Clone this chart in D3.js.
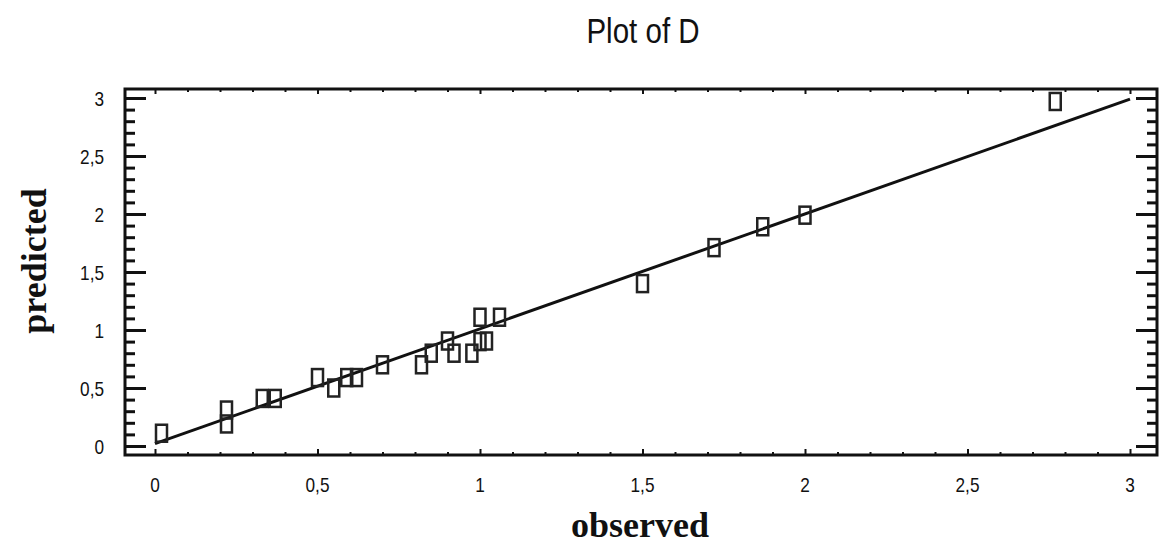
<!DOCTYPE html>
<html>
<head>
<meta charset="utf-8">
<script src="https://cdn.jsdelivr.net/npm/d3@7"></script>
<style>
  html, body { margin: 0; padding: 0; background: #fff; }
  svg { display: block; }
  .tick-label { font-family: "Liberation Sans", Arial, sans-serif; font-size: 21px; fill: #111; }
  .title { font-family: "Liberation Sans", Arial, sans-serif; font-size: 36px; fill: #111; }
  .axis-title { font-family: "Liberation Serif", "Times New Roman", serif; font-weight: bold; font-size: 36px; fill: #111; }
</style>
</head>
<body>
<svg id="chart" width="1160" height="546"></svg>
<script>
// ---- data ----
const observed  = [0.02, 0.22, 0.22, 0.33, 0.37, 0.50, 0.55, 0.59, 0.62, 0.70, 0.82, 0.85, 0.90, 0.92, 0.975, 1.00, 1.00, 1.02, 1.06, 1.50, 1.72, 1.87, 2.00, 2.77];
const predicted = [0.11, 0.31, 0.19, 0.41, 0.41, 0.59, 0.50, 0.59, 0.59, 0.70, 0.70, 0.80, 0.905, 0.80, 0.80, 1.11, 0.90, 0.905, 1.11, 1.40, 1.71, 1.89, 1.99, 2.97];
const fitIntercept = 0.02;
const fitSlope = 0.99;
const xTicks = [0, 0.5, 1, 1.5, 2, 2.5, 3];
const yTicks = [0, 0.5, 1, 1.5, 2, 2.5, 3];
const titleText = "Plot of D";
const xTitle = "observed";
const yTitle = "predicted";

// ---- layout ----
const svg = d3.select("#chart");
const frame = { left: 125, right: 1157, top: 89, bottom: 455 };
const x = d3.scaleLinear().domain([0, 3]).range([155, 1130]);
const y = d3.scaleLinear().domain([0, 3]).range([446, 98]);
const xMin = x.invert(frame.left), xMax = x.invert(frame.right);
const yMin = y.invert(frame.bottom), yMax = y.invert(frame.top);
const narrow = 0.82;

const locale = d3.formatLocale({ decimal: ",", thousands: ".", grouping: [3], currency: ["", ""] });
const fmt = locale.format("~g");

const minorX = d3.range(Math.ceil(xMin * 10), Math.floor(xMax * 10) + 1).map(v => v / 10).filter(v => !xTicks.some(t => Math.abs(t - v) < 1e-9));
const minorY = d3.range(Math.ceil(yMin * 10), Math.floor(yMax * 10) + 1).map(v => v / 10).filter(v => !yTicks.some(t => Math.abs(t - v) < 1e-9));

function styleAxis(g, w) {
  g.select(".domain").remove();
  g.selectAll(".tick line").attr("stroke", "#111").attr("stroke-width", w);
  g.selectAll(".tick text").remove();
}

// left axis (ticks inward)
svg.append("g").attr("transform", `translate(${frame.left},0)`)
  .call(d3.axisRight(y).tickValues(yTicks).tickSize(21).tickFormat(""))
  .call(g => styleAxis(g, 3));
svg.append("g").attr("transform", `translate(${frame.left},0)`)
  .call(d3.axisRight(y).tickValues(minorY).tickSize(10).tickFormat(""))
  .call(g => styleAxis(g, 3));
// right axis
svg.append("g").attr("transform", `translate(${frame.right},0)`)
  .call(d3.axisLeft(y).tickValues(yTicks).tickSize(21).tickFormat(""))
  .call(g => styleAxis(g, 3));
svg.append("g").attr("transform", `translate(${frame.right},0)`)
  .call(d3.axisLeft(y).tickValues(minorY).tickSize(10).tickFormat(""))
  .call(g => styleAxis(g, 3));
// bottom axis
svg.append("g").attr("transform", `translate(0,${frame.bottom})`)
  .call(d3.axisTop(x).tickValues(xTicks).tickSize(6).tickFormat(""))
  .call(g => styleAxis(g, 2));
svg.append("g").attr("transform", `translate(0,${frame.bottom})`)
  .call(d3.axisTop(x).tickValues(minorX).tickSize(3).tickFormat(""))
  .call(g => styleAxis(g, 2));
// top axis
svg.append("g").attr("transform", `translate(0,${frame.top})`)
  .call(d3.axisBottom(x).tickValues(xTicks).tickSize(5).tickFormat(""))
  .call(g => styleAxis(g, 2));
svg.append("g").attr("transform", `translate(0,${frame.top})`)
  .call(d3.axisBottom(x).tickValues(minorX).tickSize(3).tickFormat(""))
  .call(g => styleAxis(g, 2));

// frame
svg.append("rect")
  .attr("x", frame.left).attr("y", frame.top)
  .attr("width", frame.right - frame.left).attr("height", frame.bottom - frame.top)
  .attr("fill", "none").attr("stroke", "#111").attr("stroke-width", 3);

// tick labels (condensed via horizontal scale)
svg.append("g").selectAll("text").data(xTicks).join("text")
  .attr("class", "tick-label")
  .attr("transform", d => `translate(${x(d)},492) scale(${narrow},1)`)
  .attr("text-anchor", "middle")
  .text(d => fmt(d));
svg.append("g").selectAll("text").data(yTicks).join("text")
  .attr("class", "tick-label")
  .attr("transform", d => `translate(104,${y(d) + 7.5}) scale(${narrow},1)`)
  .attr("text-anchor", "end")
  .text(d => fmt(d));

// fit line
svg.append("line")
  .attr("x1", x(0)).attr("y1", y(fitIntercept))
  .attr("x2", x(3)).attr("y2", y(fitIntercept + fitSlope * 3))
  .attr("stroke", "#111").attr("stroke-width", 3);

// points
const pts = observed.map((o, i) => ({ o, p: predicted[i] }));
svg.append("g").selectAll("rect").data(pts).join("rect")
  .attr("x", d => x(d.o) - 5.5).attr("y", d => y(d.p) - 8.5)
  .attr("width", 11).attr("height", 17)
  .attr("fill", "none").attr("stroke", "#222").attr("stroke-width", 2.5);

// titles
svg.append("text").attr("class", "title")
  .attr("transform", `translate(643,43) scale(${narrow},1)`)
  .attr("text-anchor", "middle")
  .text(titleText);
svg.append("text").attr("class", "axis-title")
  .attr("x", 640).attr("y", 537).attr("text-anchor", "middle")
  .text(xTitle);
svg.append("text").attr("class", "axis-title")
  .attr("transform", "translate(46,261) rotate(-90)")
  .attr("text-anchor", "middle")
  .text(yTitle);
</script>
</body>
</html>
